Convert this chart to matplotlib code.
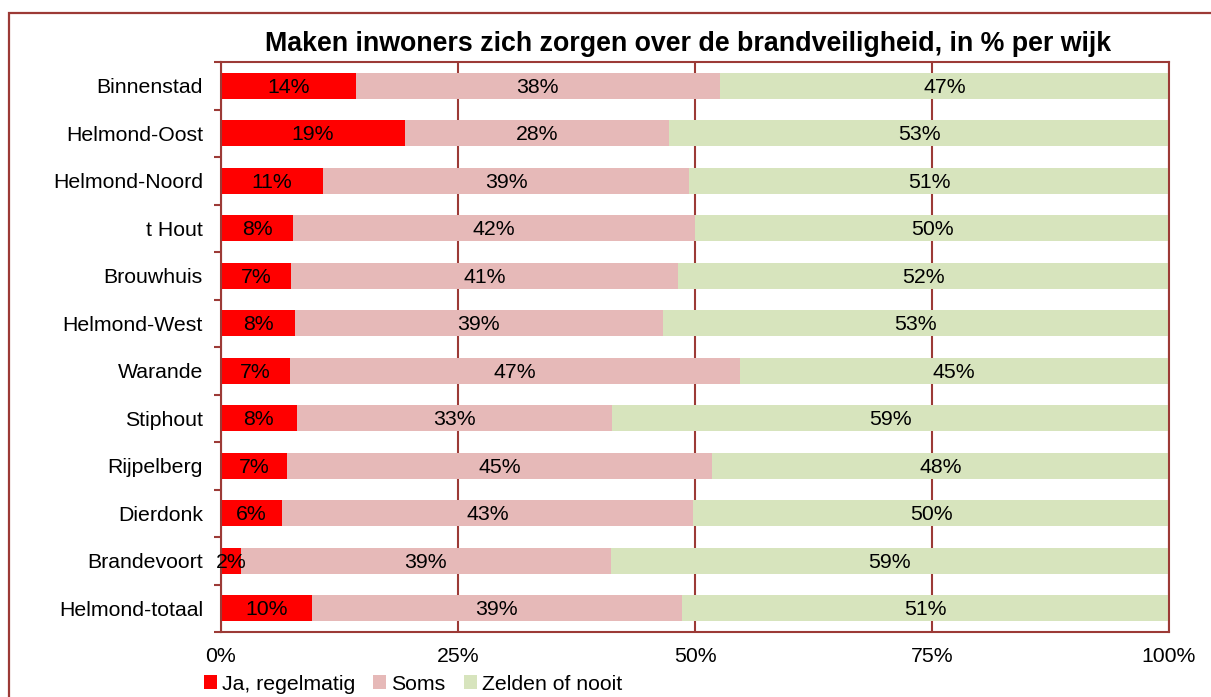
import matplotlib
matplotlib.use("Agg")
import matplotlib.pyplot as plt
from matplotlib.patches import Rectangle

plt.rcParams["font.family"] = ["Liberation Sans", "DejaVu Sans"]

# data (percent per wijk)
wijken = ["Binnenstad", "Helmond-Oost", "Helmond-Noord", "t Hout", "Brouwhuis",
          "Helmond-West", "Warande", "Stiphout", "Rijpelberg", "Dierdonk",
          "Brandevoort", "Helmond-totaal"]
ja = [14.2, 19.4, 10.8, 7.6, 7.4, 7.8, 7.3, 8.0, 7.0, 6.4, 2.1, 9.6]
soms = [38.4, 27.9, 38.6, 42.4, 40.8, 38.8, 47.4, 33.2, 44.8, 43.4, 39.0, 39.0]
zelden = [47.4, 52.7, 50.6, 50.0, 51.8, 53.4, 45.3, 58.8, 48.2, 50.2, 58.9, 51.4]
series = ["Ja, regelmatig", "Soms", "Zelden of nooit"]
colors = ["#FF0000", "#E6B9B8", "#D7E4BD"]
xticks = [0, 25, 50, 75, 100]

FRAME = "#9C3A36"
FS = 15.3

W, H = 1211, 697
fig = plt.figure(figsize=(W / 100, H / 100), dpi=100)
ax = fig.add_axes([221 / W, 1 - 632 / H, (1169 - 221) / W, (632 - 62) / H])

ypos = list(range(len(wijken)))
left = [0.0] * len(wijken)
for name, vals, col in zip(series, [ja, soms, zelden], colors):
    bars = ax.barh(ypos, vals, left=left, height=0.55, color=col, label=name, zorder=2)
    for b, v in zip(bars, vals):
        ax.text(b.get_x() + b.get_width() / 2, b.get_y() + b.get_height() / 2 + 0.03,
                f"{v:.0f}%", ha="center", va="center", fontsize=FS, zorder=3)
    left = [l + v for l, v in zip(left, vals)]

ax.set_xlim(0, 100)
ax.set_ylim(len(wijken) - 0.5, -0.5)
ax.set_xticks(xticks)
ax.set_xticklabels([f"{t}%" for t in xticks])
ax.set_yticks(ypos)
ax.set_yticklabels(wijken)
ax.set_yticks([i - 0.5 for i in range(len(wijken) + 1)], minor=True)
ax.tick_params(axis="y", which="major", length=0, pad=13, labelsize=FS)
ax.tick_params(axis="y", which="minor", length=5, width=1.5, color=FRAME, direction="out")
ax.tick_params(axis="x", which="major", length=0, pad=11, labelsize=FS)
ax.grid(axis="x", color=FRAME, linewidth=1.5, zorder=0)
ax.set_axisbelow(True)
for s in ax.spines.values():
    s.set_color(FRAME)
    s.set_linewidth(1.5)

fig.text(688 / W, 1 - 44 / H, "Maken inwoners zich zorgen over de brandveiligheid, in % per wijk",
         ha="center", va="center", fontsize=19.3, fontweight="bold")

fig.legend(loc="center left", bbox_to_anchor=(204 / W, 1 - 684 / H), ncol=3, frameon=False,
           fontsize=FS, handlelength=0.6, handleheight=0.65, handletextpad=0.25,
           columnspacing=0.85, borderaxespad=0, borderpad=0)

# outer chart border (bottom and right run off the image)
fig.add_artist(Rectangle((9 / W, -0.1), 1.2, 1.1 - 13 / H, transform=fig.transFigure,
                         fill=False, edgecolor=FRAME, linewidth=1.6, clip_on=False))

fig.savefig("out.png", dpi=100)
